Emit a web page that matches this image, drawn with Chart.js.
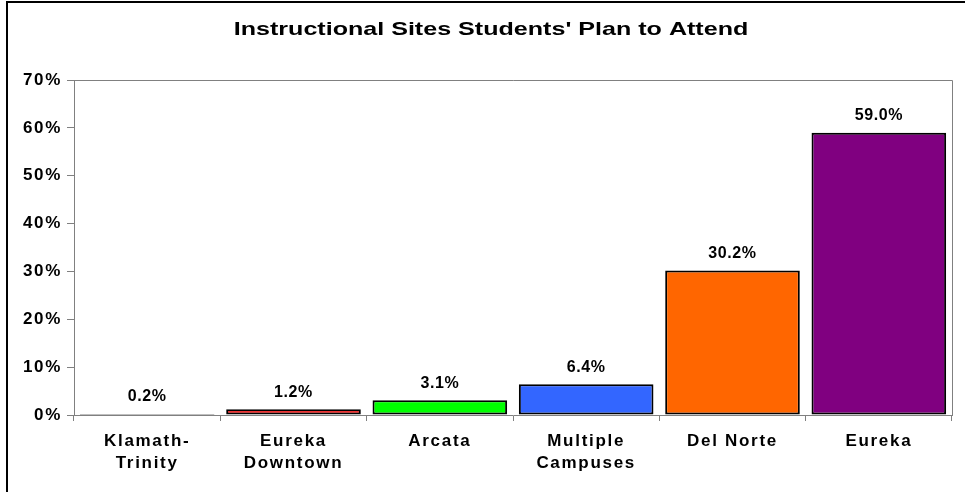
<!DOCTYPE html>
<html>
<head>
<meta charset="utf-8">
<script src="https://cdn.jsdelivr.net/npm/chart.js@4.4.1/dist/chart.umd.min.js"></script>
<style>
  html, body { margin: 0; padding: 0; background: #fff; }
  #wrap { width: 965px; height: 492px; position: relative; }
</style>
</head>
<body>
<div id="wrap"><canvas id="grafico" width="965" height="492"></canvas></div>
<script>
const titulo = "Instructional Sites Students' Plan to Attend";
const categorias = [["Klamath-", "Trinity"], ["Eureka", "Downtown"], ["Arcata"], ["Multiple", "Campuses"], ["Del Norte"], ["Eureka"]];
const valores = [0.2, 1.2, 3.1, 6.4, 30.2, 59.0];
const cores = ["#000000", "#FF0000", "#00FF00", "#3366FF", "#FF6600", "#800080"];
const ticksY = [0, 10, 20, 30, 40, 50, 60, 70];

const fonte = "'Liberation Sans', Arial, sans-serif";

// moldura, titulo e rotulos dos valores
const extras = {
  id: "extras",
  beforeDraw(chart) {
    const ctx = chart.ctx;
    ctx.letterSpacing = "1.7px";
    ctx.save();
    ctx.fillStyle = "#fff";
    ctx.fillRect(0, 0, chart.width, chart.height);
    ctx.strokeStyle = "#000";
    ctx.lineWidth = 2;
    ctx.beginPath();
    ctx.moveTo(7, 492);
    ctx.lineTo(7, 2);
    ctx.lineTo(965, 2);
    ctx.stroke();
    // titulo um pouco esticado na horizontal, como no original
    ctx.letterSpacing = "0px";
    ctx.fillStyle = "#000";
    ctx.font = "bold 19px " + fonte;
    ctx.textAlign = "center";
    ctx.textBaseline = "middle";
    ctx.translate(491, 30);
    ctx.scale(1.32, 1);
    ctx.fillText(titulo, 0, 0);
    ctx.restore();
  },
  afterDatasetsDraw(chart) {
    const ctx = chart.ctx;
    const a = chart.chartArea;
    ctx.save();
    // borda superior e direita da area do grafico
    ctx.strokeStyle = "#808080";
    ctx.lineWidth = 1;
    ctx.beginPath();
    ctx.moveTo(a.left, a.top + 0.5);
    ctx.lineTo(a.right + 0.5, a.top + 0.5);
    ctx.lineTo(a.right + 0.5, a.bottom);
    ctx.stroke();
    ctx.letterSpacing = "0.6px";
    ctx.fillStyle = "#000";
    ctx.font = "bold 16px " + fonte;
    ctx.textAlign = "center";
    ctx.textBaseline = "bottom";
    chart.getDatasetMeta(0).data.forEach((bar, i) => {
      ctx.fillText(valores[i].toFixed(1) + "%", bar.x, bar.y - 9);
    });
    ctx.restore();
  }
};

new Chart(document.getElementById("grafico"), {
  type: "bar",
  data: {
    labels: categorias,
    datasets: [{
      data: valores,
      backgroundColor: cores,
      borderColor: "#000",
      borderWidth: 2,
      borderSkipped: false,
      barPercentage: 0.92,
      categoryPercentage: 1
    }]
  },
  options: {
    responsive: false,
    animation: false,
    devicePixelRatio: 1,
    layout: { padding: { left: 0, right: 13, top: 80, bottom: 0 } },
    plugins: {
      legend: { display: false },
      title: { display: false },
      tooltip: { enabled: false }
    },
    scales: {
      x: {
        afterFit: s => { s.height = 77; },
        grid: { display: true, drawOnChartArea: false, drawTicks: true, tickLength: 6, color: "#808080", offset: true },
        border: { display: true, color: "#808080", width: 1 },
        ticks: {
          color: "#000",
          font: { family: fonte, size: 17, weight: "bold", lineHeight: 1.25 },
          padding: 10,
          maxRotation: 0,
          autoSkip: false
        }
      },
      y: {
        min: 0,
        max: 70,
        afterFit: s => { s.width = 74; },
        afterBuildTicks: s => { s.ticks = ticksY.map(v => ({ value: v })); },
        grid: { display: true, drawOnChartArea: false, drawTicks: true, tickLength: 7, color: "#808080" },
        border: { display: true, color: "#808080", width: 1 },
        ticks: {
          color: "#000",
          font: { family: fonte, size: 17, weight: "bold" },
          padding: 5,
          callback: v => v + "%"
        }
      }
    }
  },
  plugins: [extras]
});
</script>
</body>
</html>
